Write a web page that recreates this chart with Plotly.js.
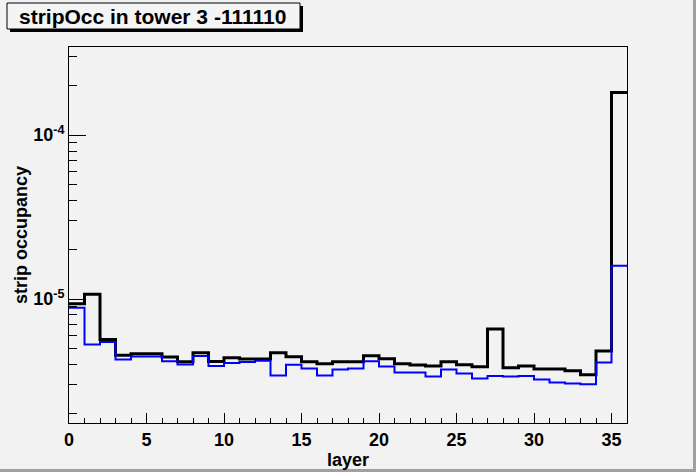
<!DOCTYPE html>
<html>
<head>
<meta charset="utf-8">
<script src="https://cdn.plot.ly/plotly-3.0.1.min.js"></script>
<style>html,body{margin:0;padding:0;background:#f2f2f2;}#chart{width:696px;height:472px;}</style>
</head>
<body>
<div id="chart"></div>
<script>
// bin index (layer) 0..35
const layers = [0,1,2,3,4,5,6,7,8,9,10,11,12,13,14,15,16,17,18,19,20,21,22,23,24,25,26,27,28,29,30,31,32,33,34,35];
const binWidth = 1;
// black histogram
const occBlack = [9.35e-6,1.07e-5,5.67e-6,4.55e-6,4.64e-6,4.64e-6,4.43e-6,4.14e-6,4.70e-6,4.16e-6,
  4.38e-6,4.31e-6,4.31e-6,4.70e-6,4.45e-6,4.14e-6,4.03e-6,4.14e-6,4.14e-6,4.51e-6,
  4.32e-6,4.03e-6,3.96e-6,3.90e-6,4.14e-6,3.98e-6,3.87e-6,6.56e-6,3.81e-6,3.90e-6,
  3.74e-6,3.74e-6,3.65e-6,3.45e-6,4.83e-6,1.82e-4];
// blue histogram
const occBlue = [8.84e-6,5.28e-6,5.48e-6,4.28e-6,4.47e-6,4.47e-6,4.18e-6,3.99e-6,4.49e-6,3.90e-6,
  4.07e-6,4.13e-6,4.20e-6,3.42e-6,3.98e-6,3.77e-6,3.42e-6,3.72e-6,3.77e-6,4.18e-6,
  3.88e-6,3.57e-6,3.57e-6,3.37e-6,3.72e-6,3.52e-6,3.28e-6,3.40e-6,3.37e-6,3.40e-6,
  3.23e-6,3.10e-6,3.05e-6,3.02e-6,4.11e-6,1.60e-5];
const xTickVals = [0,5,10,15,20,25,30,35];
const xTickText = ['0','5','10','15','20','25','30','35'];
const yTickVals = [1e-5,1e-4];
const yTickText = ['10<sup>-5</sup>','10<sup>-4</sup>'];
const titleText = 'stripOcc in tower 3 -111110';
const xTitle = 'layer';
const yTitle = 'strip occupancy';

function steps(vals){
  const xs = layers.map(v=>v).concat([layers[layers.length-1]+binWidth]);
  const ys = vals.concat([vals[vals.length-1]]);
  return {xs, ys};
}
const sb = steps(occBlack), su = steps(occBlue);

const yMinor = [];
for (let d=-6; d<=-3; d++){ for (let m=2; m<=9; m++){ yMinor.push(m*Math.pow(10,d)); } }

const fam = 'Liberation Sans, Arial, sans-serif';
const W = 558, H = 376, L = 69, T = 47;
const px = x => (x-L)/W;
const py = y => (T+H-y)/H;

const data = [
  {x: sb.xs, y: sb.ys, type:'scatter', mode:'lines', line:{shape:'hv', color:'#000000', width:3}, hoverinfo:'skip'},
  {x: su.xs, y: su.ys, type:'scatter', mode:'lines', line:{shape:'hv', color:'#0000ff', width:2}, hoverinfo:'skip'}
];

const layout = {
  width:696, height:472,
  margin:{l:L, r:696-L-W, t:T, b:472-T-H, pad:0},
  paper_bgcolor:'#f2f2f2', plot_bgcolor:'#f2f2f2',
  showlegend:false,
  font:{family:fam, color:'#000', size:18},
  xaxis:{
    range:[0,36], showgrid:false, zeroline:false,
    showline:true, linecolor:'#000', linewidth:1, mirror:true,
    ticks:'inside', ticklen:10, tickwidth:1, tickcolor:'#000',
    tickmode:'array', tickvals:xTickVals, ticktext:xTickText,
    tickfont:{family:fam, size:18, color:'#000', weight:'bold'},
    minor:{ticks:'inside', ticklen:5, tickwidth:1, tickcolor:'#000', dtick:1, tick0:0, showgrid:false},
    title:{text:'<b>'+xTitle+'</b>', font:{family:fam, size:18, color:'#000'}, standoff:0}
  },
  yaxis:{
    type:'log', range:[-5.756,-3.462], showgrid:false, zeroline:false,
    showline:true, linecolor:'#000', linewidth:1, mirror:true,
    ticks:'inside', ticklen:17, tickwidth:1, tickcolor:'#000',
    tickmode:'array', tickvals:yTickVals, ticktext:yTickText,
    tickfont:{family:fam, size:18, color:'#000', weight:'bold'},
    minor:{ticks:'inside', ticklen:8, tickwidth:1, tickcolor:'#000', tickmode:'array', tickvals:yMinor, showgrid:false},
    title:{text:'<b>'+yTitle+'</b>', font:{family:fam, size:18, color:'#000'}, standoff:0}
  },
  shapes:[
    {type:'rect', xref:'paper', yref:'paper', x0:px(10), x1:px(303), y0:py(32), y1:py(6), fillcolor:'#000', line:{width:0}, layer:'above'},
    {type:'rect', xref:'paper', yref:'paper', x0:px(7), x1:px(300), y0:py(29), y1:py(3), fillcolor:'#f4f4f4', line:{color:'#000', width:1}, layer:'above'},
    {type:'line', xref:'paper', yref:'paper', x0:px(694.5), x1:px(694.5), y0:py(0), y1:py(472), line:{color:'#a0a0a0', width:3}},
    {type:'line', xref:'paper', yref:'paper', x0:px(0), x1:px(696), y0:py(470.5), y1:py(470.5), line:{color:'#a0a0a0', width:3}}
  ],
  annotations:[
    {text:'<b>'+titleText+'</b>', xref:'paper', yref:'paper', x:px(152.5), y:py(16.5), xanchor:'center', yanchor:'middle', showarrow:false,
     font:{family:fam, size:21, color:'#000'}}
  ]
};
Plotly.newPlot('chart', data, layout, {staticPlot:true, displayModeBar:false});
</script>
</body>
</html>
